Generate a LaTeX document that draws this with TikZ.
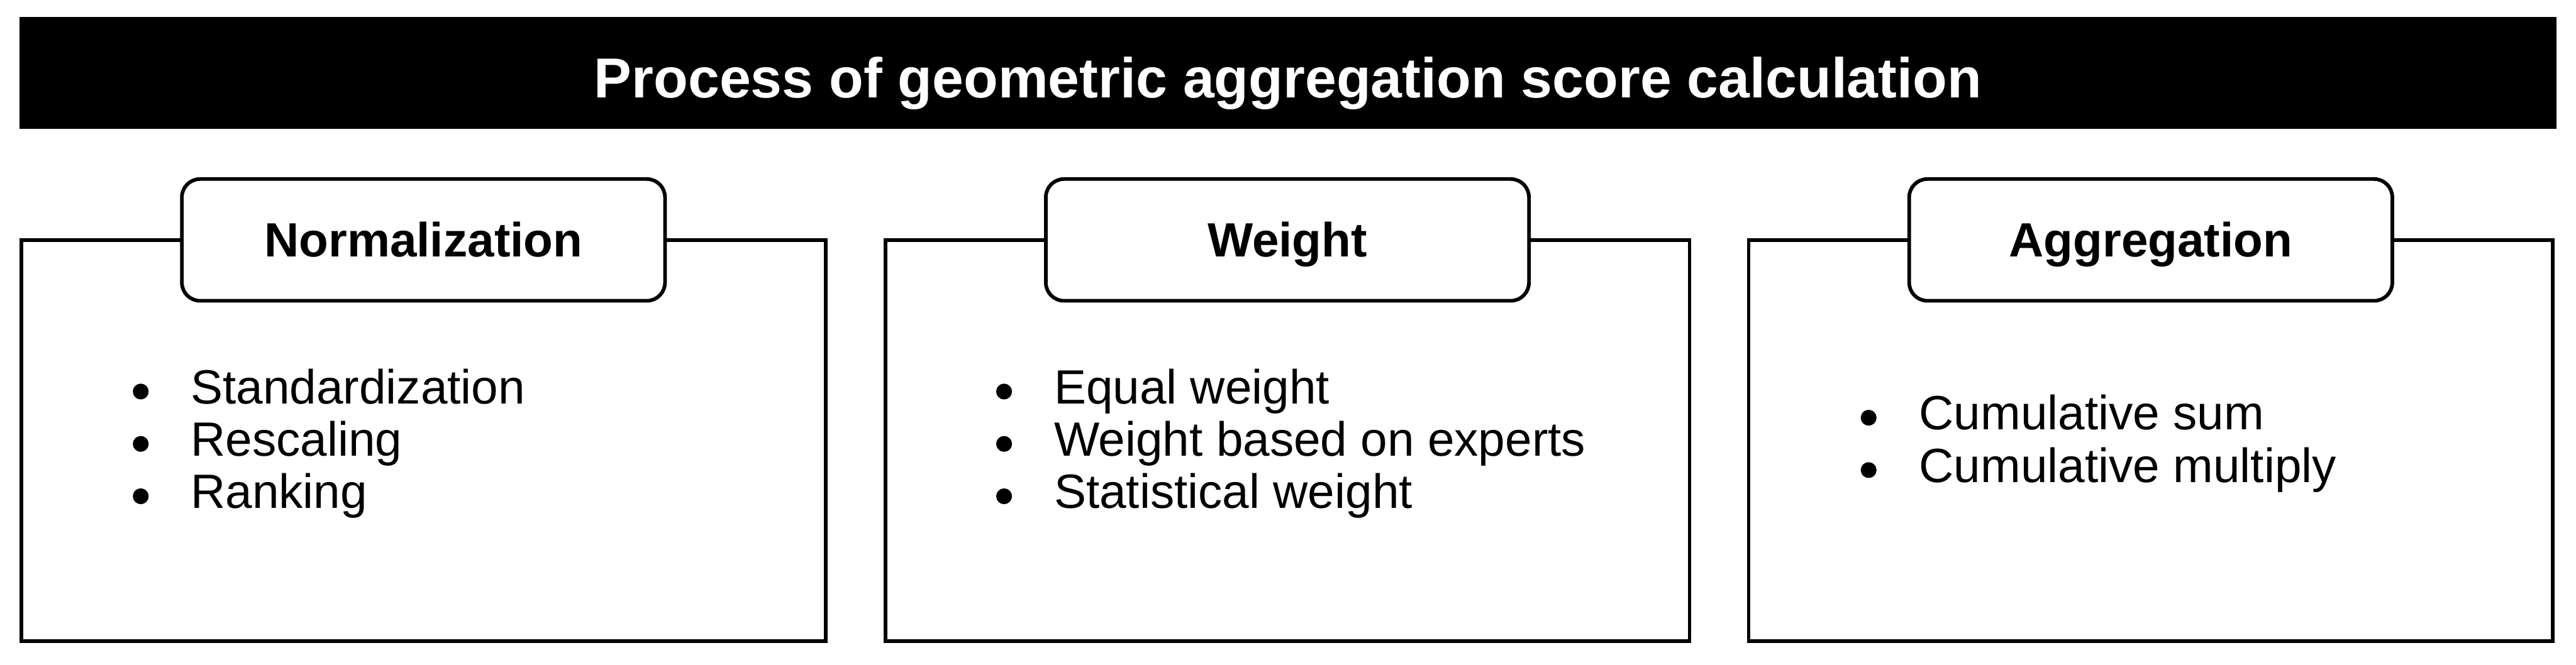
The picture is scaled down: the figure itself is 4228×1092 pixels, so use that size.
\documentclass[tikz,border=0pt]{standalone}
\usepackage{fontspec}
\setmainfont{Liberation Sans}
\begin{document}
\begin{tikzpicture}[x=0.2pt,y=-0.2pt,
  titlebar/.style={fill=black, draw=none, minimum width=832.8pt, minimum height=36.8pt, inner sep=0pt},
  titletext/.style={text=white, font=\fontsize{18.5pt}{22pt}\selectfont\bfseries, inner sep=0pt},
  outerbox/.style={draw=black, line width=1.2pt, fill=white, minimum width=264pt, minimum height=131.8pt, inner sep=0pt},
  labelbox/.style={draw=black, line width=1.2pt, fill=white, rounded corners=6pt, minimum width=158.6pt, minimum height=40pt, inner sep=0pt},
  labeltext/.style={font=\fontsize{15.8pt}{18pt}\selectfont\bfseries, inner sep=0pt},
  itemtext/.style={font=\fontsize{15.8pt}{18pt}\selectfont, inner sep=0pt, anchor=base west},
  dot/.style={fill=black}
]
\useasboundingbox (0,0) rectangle (4228,1092);
% title bar
\node[titlebar] (bar) at (2114,120) {};
\node[titletext, anchor=base] (title) at (2114,161) {Process of geometric aggregation score calculation};
% outer boxes
\node[outerbox] (box1) at (695,723.5) {};
\node[outerbox] (box2) at (2113,723.5) {};
\node[outerbox] (box3) at (3530,723.5) {};
% label boxes
\node[labelbox] (lab1) at (695,394) {};
\node[labelbox] (lab2) at (2113,394) {};
\node[labelbox] (lab3) at (3530,394) {};
\node[labeltext, anchor=base] (lt1) at (695,422) {Normalization};
\node[labeltext, anchor=base] (lt2) at (2113,422) {Weight};
\node[labeltext, anchor=base] (lt3) at (3530,422) {Aggregation};
% box 1 items
\node[itemtext] (a1) at (312,663) {Standardization};
\node[itemtext] (a2) at (312,749) {Rescaling};
\node[itemtext] (a3) at (312,835) {Ranking};
\fill[dot] (231,643) circle (2.6pt);
\fill[dot] (231,729) circle (2.6pt);
\fill[dot] (231,815) circle (2.6pt);
% box 2 items
\node[itemtext] (b1) at (1729,663) {Equal weight};
\node[itemtext] (b2) at (1729,749) {Weight based on experts};
\node[itemtext] (b3) at (1729,835) {Statistical weight};
\fill[dot] (1648,643) circle (2.6pt);
\fill[dot] (1648,729) circle (2.6pt);
\fill[dot] (1648,815) circle (2.6pt);
% box 3 items
\node[itemtext] (c1) at (3149,706) {Cumulative sum};
\node[itemtext] (c2) at (3149,792) {Cumulative multiply};
\fill[dot] (3067,686) circle (2.6pt);
\fill[dot] (3067,772) circle (2.6pt);
\end{tikzpicture}
\end{document}
